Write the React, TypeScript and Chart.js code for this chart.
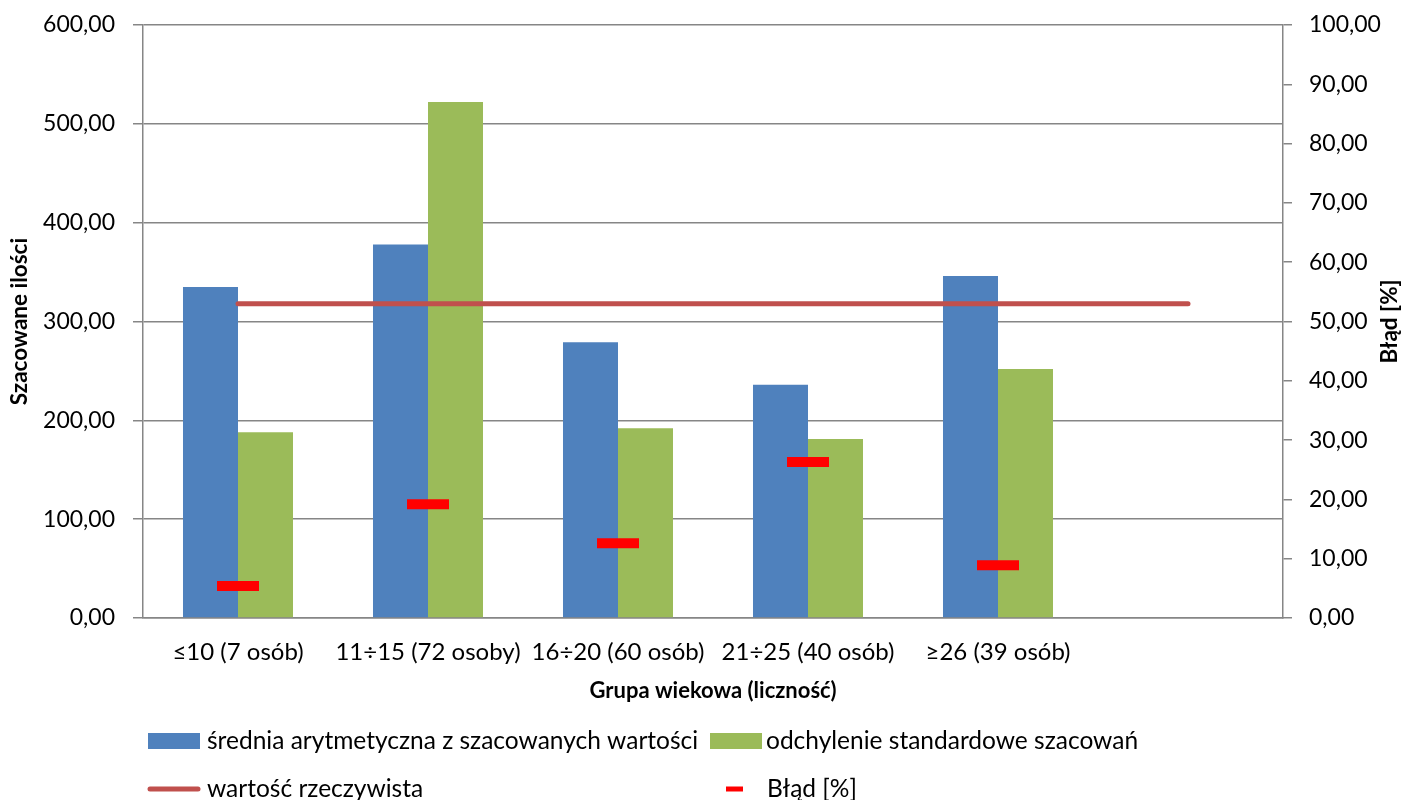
import React, { useEffect, useRef } from 'react';
import { Chart, registerables } from 'chart.js';

Chart.register(...registerables);

const categories = ['≤10 (7 osób)', '11÷15 (72 osoby)', '16÷20 (60 osób)', '21÷25 (40 osób)', '≥26 (39 osób)', ''];
const meanValues = [335, 378, 279, 236, 346, null];
const stdValues = [188, 522, 192, 181, 252, null];
const realValues = [318, 318, 318, 318, 318, 318];
const errorValues = [5.4, 19.2, 12.6, 26.3, 8.9, null];

const leftAxis = { min: 0, max: 600, step: 100 };
const rightAxis = { min: 0, max: 100, step: 10 };

const meanLabel = 'średnia arytmetyczna z szacowanych wartości';
const stdLabel = 'odchylenie standardowe szacowań';
const realLabel = 'wartość rzeczywista';
const errorLabel = 'Błąd [%]';
const yTitle = 'Szacowane ilości';
const y2Title = 'Błąd [%]';
const xTitle = 'Grupa wiekowa (liczność)';

const FONT = "Lato, 'Open Sans', sans-serif";
const GRID = '#868686';
const BLUE = '#4F81BD';
const GREEN = '#9BBB59';
const LINE = '#C0504D';
const DASH = '#FF0000';

const fmt = (v: any) => Number(v).toFixed(2).replace('.', ',');
const noPadding = () => ({ left: 0, top: 0, right: 0, bottom: 0 });

const overlayPlugin = {
  id: 'overlay',
  afterDraw(chart: any) {
    const ctx = chart.ctx as CanvasRenderingContext2D;
    const ca = chart.chartArea;
    const ds = chart.data.datasets;
    ctx.save();
    ctx.fillStyle = '#000';
    ctx.textAlign = 'center';
    ctx.textBaseline = 'middle';
    ctx.font = `bold 22.5px ${FONT}`;
    const cy = (ca.top + ca.bottom) / 2;
    ctx.save();
    ctx.translate(20, cy);
    ctx.rotate(-Math.PI / 2);
    ctx.fillText(yTitle, 0, 0);
    ctx.restore();
    ctx.save();
    ctx.translate(1390, cy);
    ctx.rotate(-Math.PI / 2);
    ctx.fillText(y2Title, 0, 0);
    ctx.restore();
    ctx.font = `bold 22px ${FONT}`;
    ctx.fillText(xTitle, (ca.left + ca.right) / 2, 691);

    // legend
    ctx.font = `24.5px ${FONT}`;
    ctx.textAlign = 'left';
    const row1 = 741;
    const row2 = 789;
    ctx.fillStyle = ds[2].backgroundColor;
    ctx.fillRect(148, row1 - 8, 52, 16);
    ctx.fillStyle = ds[3].backgroundColor;
    ctx.fillRect(710, row1 - 8, 52, 16);
    ctx.strokeStyle = ds[1].borderColor;
    ctx.lineWidth = 5;
    ctx.lineCap = 'round';
    ctx.beginPath();
    ctx.moveTo(150, row2);
    ctx.lineTo(198, row2);
    ctx.stroke();
    ctx.strokeStyle = ds[0].pointBorderColor;
    ctx.lineCap = 'butt';
    ctx.beginPath();
    ctx.moveTo(726, row2);
    ctx.lineTo(743, row2);
    ctx.stroke();
    ctx.fillStyle = '#000';
    ctx.fillText(ds[2].label, 207, row1);
    ctx.fillText(ds[3].label, 766, row1);
    ctx.fillText(ds[1].label, 207, row2);
    ctx.fillText(ds[0].label, 767, row2);
    ctx.restore();
  },
};

export default function App() {
  const ref = useRef<HTMLCanvasElement | null>(null);
  useEffect(() => {
    if (!ref.current) return;
    const tickFont = { family: FONT, size: 23 };
    const catFont = { family: FONT, size: 24 };
    const chart = new Chart(ref.current, {
      data: {
        labels: categories,
        datasets: [
          {
            type: 'line',
            label: errorLabel,
            data: errorValues,
            yAxisID: 'y2',
            showLine: false,
            pointStyle: 'line',
            pointRadius: 21,
            pointHoverRadius: 21,
            pointBorderWidth: 10,
            pointHoverBorderWidth: 10,
            pointBorderColor: DASH,
            pointBackgroundColor: DASH,
            borderColor: DASH,
            order: 0,
          },
          {
            type: 'line',
            label: realLabel,
            data: realValues,
            yAxisID: 'y',
            borderColor: LINE,
            borderWidth: 5,
            borderCapStyle: 'round',
            pointRadius: 0,
            pointHoverRadius: 0,
            order: 1,
          },
          {
            type: 'bar',
            label: meanLabel,
            data: meanValues,
            yAxisID: 'y',
            backgroundColor: BLUE,
            categoryPercentage: 0.579,
            barPercentage: 1,
            order: 2,
          },
          {
            type: 'bar',
            label: stdLabel,
            data: stdValues,
            yAxisID: 'y',
            backgroundColor: GREEN,
            categoryPercentage: 0.579,
            barPercentage: 1,
            order: 3,
          },
        ],
      } as any,
      options: {
        animation: false,
        responsive: false,
        devicePixelRatio: 1,
        layout: { autoPadding: false, padding: { top: 25, left: 0, right: 0, bottom: 0 } },
        plugins: { legend: { display: false }, tooltip: { enabled: false } },
        scales: {
          x: {
            type: 'category',
            offset: true,
            grid: { display: false, drawTicks: false },
            border: { display: true, color: GRID, width: 1.5 },
            ticks: { font: catFont, color: '#000', padding: 20, maxRotation: 0, minRotation: 0, autoSkip: false },
            afterFit(s: any) { s.height = 182; s.getPadding = noPadding; },
          },
          y: {
            position: 'left',
            min: leftAxis.min,
            max: leftAxis.max,
            ticks: { stepSize: leftAxis.step, callback: fmt, font: tickFont, color: '#000', padding: 18 },
            grid: { color: GRID, lineWidth: 1.5, tickLength: 10 },
            border: { display: true, color: GRID, width: 1.5 },
            afterFit(s: any) { s.width = 143; s.getPadding = noPadding; },
          },
          y2: {
            position: 'right',
            min: rightAxis.min,
            max: rightAxis.max,
            ticks: { stepSize: rightAxis.step, callback: fmt, font: tickFont, color: '#000', padding: 17 },
            grid: { drawOnChartArea: false, color: GRID, lineWidth: 1.5, tickLength: 9 },
            border: { display: true, color: GRID, width: 1.5 },
            afterFit(s: any) { s.width = 120; s.getPadding = noPadding; },
          },
        },
      } as any,
      plugins: [overlayPlugin],
    });
    return () => chart.destroy();
  }, []);
  return (
    <div style={{ position: 'absolute', left: 0, top: 0, width: 1403, height: 800, background: '#fff' }}>
      <canvas ref={ref} width={1403} height={800} style={{ display: 'block' }} />
    </div>
  );
}
